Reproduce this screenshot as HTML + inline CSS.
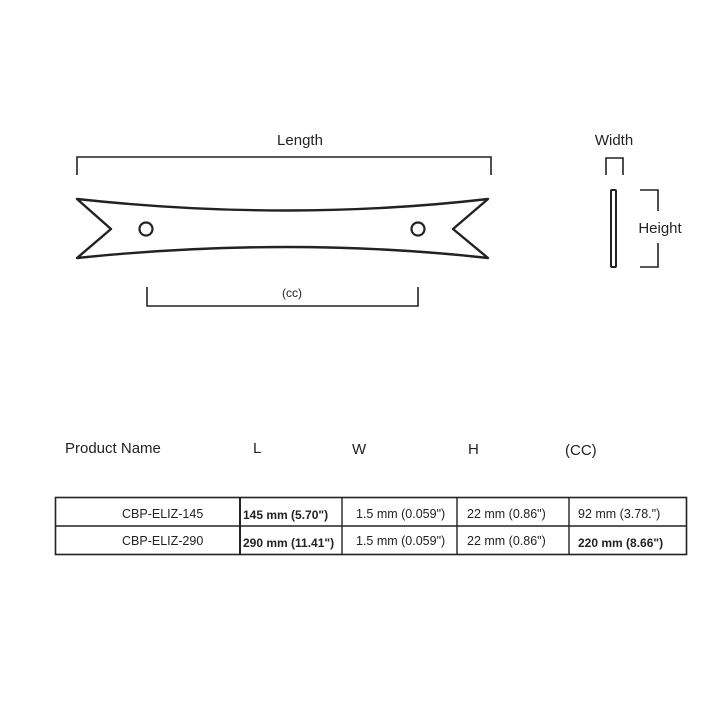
<!DOCTYPE html>
<html><head><meta charset="utf-8"><style>
html,body{margin:0;padding:0;background:#fff;}
svg{display:block;}
text{font-family:"Liberation Sans",sans-serif;fill:#222;}
</style></head><body>
<svg width="711" height="710" viewBox="0 0 711 710" xmlns="http://www.w3.org/2000/svg">
<g fill="none" stroke="#222" stroke-width="1.6">
<path d="M77 175 V157 H491 V175"/>
<path d="M147 287 V306 H418 V287"/>
<path d="M606 175 V158 H623 V175"/>
<path d="M640 190 H658 V211 M640 267 H658 V243"/>
</g>
<rect x="611" y="190" width="5" height="77" rx="1" fill="none" stroke="#222" stroke-width="2"/>
<path d="M77 199 Q290 222 488 199 L453 229 L488 258 Q290 236 77 258 L111 229 Z" fill="none" stroke="#222" stroke-width="2.4" stroke-linejoin="round"/>
<circle cx="146" cy="229" r="6.5" fill="none" stroke="#222" stroke-width="2.2"/>
<circle cx="418" cy="229" r="6.5" fill="none" stroke="#222" stroke-width="2.2"/>
<text x="300" y="145" font-size="15" text-anchor="middle">Length</text>
<text x="292" y="297" font-size="12" text-anchor="middle">(cc)</text>
<text x="614" y="145" font-size="15" text-anchor="middle">Width</text>
<text x="660" y="233" font-size="15" text-anchor="middle">Height</text>
<g font-size="15">
<text x="65" y="453">Product Name</text>
<text x="253" y="453">L</text>
<text x="352" y="454">W</text>
<text x="468" y="454">H</text>
<text x="565" y="455">(CC)</text>
</g>
<g fill="none" stroke="#222">
<rect x="55.5" y="497.5" width="631" height="57" stroke-width="1.6"/>
<line x1="55" y1="526" x2="687" y2="526" stroke-width="1.6"/>
<line x1="240" y1="497" x2="240" y2="555" stroke-width="2"/>
<line x1="342" y1="497" x2="342" y2="555" stroke-width="1.4"/>
<line x1="457" y1="497" x2="457" y2="555" stroke-width="1.4"/>
<line x1="569" y1="497" x2="569" y2="555" stroke-width="1.4"/>
</g>
<g font-size="12.5">
<text x="122" y="518">CBP-ELIZ-145</text>
<text x="122" y="545">CBP-ELIZ-290</text>
<text x="243" y="519" font-weight="bold" font-size="12">145 mm (5.70")</text>
<text x="243" y="547" font-weight="bold" font-size="12">290 mm (11.41")</text>
<text x="356" y="518">1.5 mm (0.059")</text>
<text x="356" y="545">1.5 mm (0.059")</text>
<text x="467" y="518">22 mm (0.86")</text>
<text x="467" y="545">22 mm (0.86")</text>
<text x="578" y="518">92 mm (3.78.")</text>
<text x="578" y="547" font-weight="bold" font-size="12">220 mm (8.66")</text>
</g>
</svg>
</body></html>
